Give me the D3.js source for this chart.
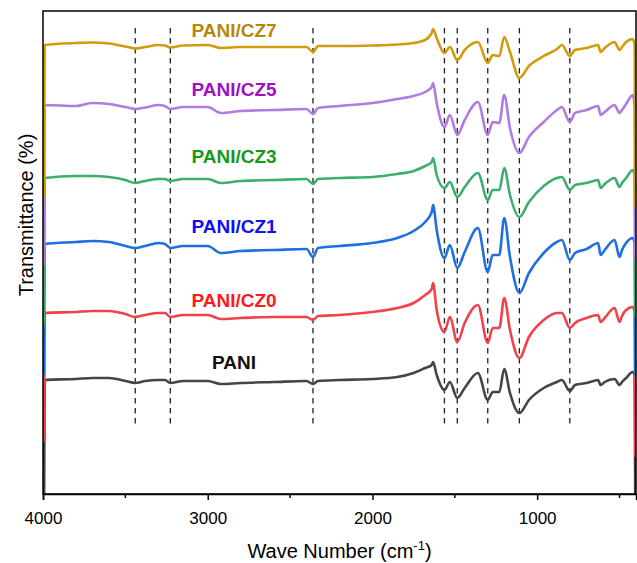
<!doctype html>
<html lang="en">

<head>
    <meta charset="UTF-8" />
    <script src="https://d3js.org/d3.v7.min.js"></script>
    <title>FTIR spectra</title>
    <style>
        body { margin: 0; background: #fff; }
        text { font-family: Arial, "Liberation Sans", sans-serif; }
    </style>
</head>

<body>
    <div id="chart"></div>
    <script>
        // Wave numbers (cm-1) shared by every spectrum, high to low
        const waveNumbers = [3994, 3990, 3800, 3700, 3600, 3500, 3440, 3380, 3300, 3260, 3227, 3150, 3000, 2920,
            2800, 2600, 2400, 2361, 2330, 2200, 2000, 1850, 1750, 1680, 1640, 1632, 1610, 1563, 1530, 1485,
            1440, 1360, 1300, 1270, 1230, 1200, 1165, 1108, 1050, 960, 880, 850, 802, 770, 700, 630, 615,
            590, 530, 500, 485, 460, 420, 408, 404]

        // Transmittance (arbitrary units, offset stacked), one value per wave number
        const pani = [-30, 114, 115, 116, 116, 113, 111, 113, 114, 114, 111, 113, 113, 110, 111, 112, 113, 110, 113,
            114, 115, 117, 121, 126, 129, 132, 119, 104, 112, 96, 106, 121, 94, 102, 102, 125, 101, 81, 94,
            106, 112, 114, 103, 109, 111, 114, 109, 112, 115, 109, 112, 116, 122, 119, -30]
        const paniCZ0 = [52, 181, 182, 183, 183, 180, 177, 179, 181, 181, 177, 179, 179, 175, 176, 177, 177, 174, 178,
            179, 182, 186, 191, 199, 205, 211, 184, 162, 177, 152, 171, 189, 151, 166, 166, 196, 164, 136, 157,
            174, 181, 181, 166, 171, 176, 179, 172, 176, 186, 172, 178, 184, 187, 182, 37]
        const paniCZ1 = [119, 250, 252, 253, 252, 248, 246, 248, 251, 250, 246, 248, 248, 241, 243, 244, 245, 237, 246,
            248, 251, 256, 263, 272, 282, 289, 264, 236, 249, 226, 242, 266, 222, 239, 239, 276, 237, 201, 221,
            241, 252, 254, 234, 241, 245, 251, 239, 244, 254, 237, 244, 251, 256, 251, 119]
        const paniCZ3 = [169, 316, 318, 318, 317, 314, 311, 313, 315, 315, 313, 315, 315, 311, 313, 314, 315, 310, 315,
            316, 317, 320, 323, 328, 332, 336, 319, 306, 312, 297, 307, 321, 294, 304, 304, 326, 299, 277, 292,
            308, 316, 317, 304, 309, 311, 314, 306, 310, 316, 307, 311, 316, 324, 318, 177]
        const paniCZ5 = [229, 389, 388, 391, 390, 387, 385, 386.5, 389, 388, 385, 387, 387, 381, 383, 384, 385, 380, 386,
            388, 391, 395, 398, 402, 407, 411, 391, 367, 379, 359, 374, 392, 359, 372, 371, 399, 366, 341, 357,
            372, 384, 387, 372, 381, 384, 388, 379, 382, 389, 381, 384, 390, 399, 387, 234]
        const paniCZ7 = [296, 449, 451, 451.5, 450.5, 447.5, 445.5, 447, 449, 448.5, 446.5, 448.5, 449, 446, 447, 447,
            447, 442, 448, 448, 448.5, 449.5, 451, 454, 461, 465, 456, 441, 447, 434, 444, 452, 431, 439, 438,
            457, 442, 416, 428, 438, 445, 449, 438, 444, 446, 449, 442, 446, 452, 444, 447, 452, 455, 449, 287]

        const seriesNames = ["PANI", "PANI/CZ0", "PANI/CZ1", "PANI/CZ3", "PANI/CZ5", "PANI/CZ7"]
        const seriesValues = [pani, paniCZ0, paniCZ1, paniCZ3, paniCZ5, paniCZ7]
        const lineColors = ["#454545", "#F0424A", "#1E6FE0", "#3DAE6E", "#B07CE0", "#D09C0C"]
        const labelColors = ["#111111", "#FF1A1A", "#1010F0", "#15991A", "#A010C8", "#B8860B"]
        // label baselines, in the same units as the spectra
        const labelValue = [125, 187, 261, 331, 398, 457]

        // Marked bands (cm-1)
        const bandLines = [3440, 3227, 2361, 1563, 1485, 1300, 1108, 802]
        const majorTicks = [4000, 3000, 2000, 1000]
        const minorTicks = [3500, 2500, 1500, 500]

        const WIDTH = 637
        const HEIGHT = 563
        const margin = { top: 11, right: 1, bottom: 69, left: 43 }
        const width = WIDTH - margin.left - margin.right
        const height = HEIGHT - margin.top - margin.bottom

        const x = d3.scaleLinear().domain([4000, 400]).range([0, width])
        const y = d3.scaleLinear().domain([0, 483]).range([height, 0])

        const svg = d3.select("#chart")
            .append("svg")
            .attr("width", WIDTH)
            .attr("height", HEIGHT)
            .append("g")
            .attr("transform", `translate(${margin.left},${margin.top})`)

        svg.append("clipPath")
            .attr("id", "plot-clip")
            .append("rect")
            .attr("width", width)
            .attr("height", height)

        // dashed band markers
        svg.selectAll(".band")
            .data(bandLines)
            .enter()
            .append("line")
            .attr("class", "band")
            .attr("x1", d => x(d))
            .attr("x2", d => x(d))
            .attr("y1", y(466))
            .attr("y2", y(67))
            .attr("stroke", "#222")
            .attr("stroke-width", 1.3)
            .attr("stroke-dasharray", "5.5,4.5")

        // spectra, PANI drawn first so CZ7 ends up on top
        const line = d3.line()
            .x((d, i) => x(waveNumbers[i]))
            .y(d => y(d))
            .curve(d3.curveMonotoneX)

        svg.append("g")
            .attr("clip-path", "url(#plot-clip)")
            .selectAll(".spectrum")
            .data(seriesValues)
            .enter()
            .append("path")
            .attr("class", "spectrum")
            .attr("d", d => line(d))
            .attr("fill", "none")
            .attr("stroke", (d, i) => lineColors[i])
            .attr("stroke-width", 2.6)
            .attr("stroke-linejoin", "round")

        // series labels
        svg.selectAll(".series-label")
            .data(seriesNames)
            .enter()
            .append("text")
            .attr("class", "series-label")
            .attr("x", x(2840))
            .attr("y", (d, i) => y(labelValue[i]))
            .attr("text-anchor", "middle")
            .attr("font-size", "19px")
            .attr("font-weight", "bold")
            .attr("fill", (d, i) => labelColors[i])
            .text(d => d)

        // frame
        svg.append("rect")
            .attr("width", width)
            .attr("height", height)
            .attr("fill", "none")
            .attr("stroke", "#000")
            .attr("stroke-width", 1.5)

        // x axis
        const xAxis = svg.append("g")
            .attr("transform", `translate(0,${height})`)
            .call(d3.axisBottom(x).tickValues(majorTicks).tickSize(6).tickFormat(d3.format("d")))
        xAxis.select(".domain").attr("stroke-width", 1.5)
        xAxis.selectAll(".tick line").attr("stroke-width", 1.5)
        xAxis.selectAll(".tick text")
            .attr("font-size", "17px")
            .attr("font-family", "Arial, 'Liberation Sans', sans-serif")
            .attr("fill", "#000")
            .attr("dy", null)
            .attr("y", 30)

        svg.append("g")
            .attr("transform", `translate(0,${height})`)
            .selectAll(".minor")
            .data(minorTicks)
            .enter()
            .append("line")
            .attr("x1", d => x(d))
            .attr("x2", d => x(d))
            .attr("y1", 0)
            .attr("y2", 4)
            .attr("stroke", "#000")
            .attr("stroke-width", 1.5)

        // axis titles
        const xTitle = svg.append("text")
            .attr("x", width / 2)
            .attr("y", height + 64)
            .attr("text-anchor", "middle")
            .attr("font-size", "20px")
            .attr("fill", "#000")
        xTitle.append("tspan").text("Wave Number (cm")
        xTitle.append("tspan").attr("dy", -8).attr("font-size", "13px").text("-1")
        xTitle.append("tspan").attr("dy", 8).text(")")

        svg.append("text")
            .attr("transform", `translate(${33 - margin.left},${215 - margin.top}) rotate(-90)`)
            .attr("text-anchor", "middle")
            .attr("font-size", "20px")
            .attr("fill", "#000")
            .text("Transmittance (%)")
    </script>
</body>

</html>
